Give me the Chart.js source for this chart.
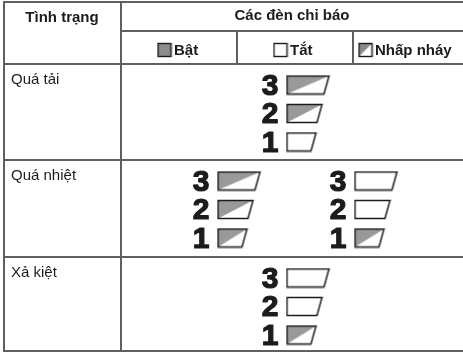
<!DOCTYPE html>
<html>
<head>
<meta charset="utf-8">
<script src="https://cdn.jsdelivr.net/npm/chart.js@4.4.1/dist/chart.umd.min.js"></script>
<style>
  html, body { margin: 0; padding: 0; background: #fff; }
  canvas { display: block; }
</style>
</head>
<body>
<canvas id="table" width="463" height="354"></canvas>
<script>
// data
const headerStatus = 'Tình trạng';
const headerLamps = 'Các đèn chỉ báo';
const legendLabels = ['Bật', 'Tắt', 'Nhấp nháy'];
const legendStates = ['on', 'off', 'blink'];
const statusLabels = ['Quá tải', 'Quá nhiệt', 'Xả kiệt'];
const lampNumbers = [3, 2, 1];
// trạng thái đèn 3, 2, 1
const overloadLamps = ['blink', 'blink', 'off'];
const overheatLampsA = ['blink', 'blink', 'blink'];
const overheatLampsB = ['off', 'off', 'blink'];
const drainedLamps = ['off', 'off', 'blink'];

// layout (pixels of the 463x354 page)
const rowTops = [64, 160, 257];
const lampOffsets = [21, 49.5, 78];
const groups = [
  { row: 0, digitX: 270, lamps: overloadLamps },
  { row: 1, digitX: 201, lamps: overheatLampsA },
  { row: 1, digitX: 338, lamps: overheatLampsB },
  { row: 2, digitX: 270, lamps: drainedLamps }
];
const lampWidth = { 3: 42, 2: 35, 1: 29 };
const lampHeight = 18;
const lampSlant = 5;
const grey = '#999999';
const lineColor = '#5f5f5f';
const ink = '#1c1c1c';

function lampCanvas(state, w, h, slant) {
  const c = document.createElement('canvas');
  c.width = w + 3;
  c.height = h + 3;
  const g = c.getContext('2d');
  const x0 = 1.5, y0 = 1.5;
  const outline = () => {
    g.beginPath();
    g.moveTo(x0, y0);
    g.lineTo(x0 + w, y0);
    g.lineTo(x0 + w - slant, y0 + h);
    g.lineTo(x0, y0 + h);
    g.closePath();
  };
  outline();
  g.fillStyle = state === 'on' ? grey : '#fff';
  g.fill();
  if (state === 'blink') {
    g.beginPath();
    g.moveTo(x0, y0);
    g.lineTo(x0 + w, y0);
    g.lineTo(x0, y0 + h);
    g.closePath();
    g.fillStyle = grey;
    g.fill();
  }
  g.strokeStyle = ink;
  g.lineWidth = 1.5;
  outline();
  g.stroke();
  return c;
}

// lamp points
const lampPoints = [];
const lampStyles = [];
groups.forEach(gr => {
  lampNumbers.forEach((n, i) => {
    const w = lampWidth[n];
    lampStyles.push(lampCanvas(gr.lamps[i], w, lampHeight, lampSlant));
    lampPoints.push({ x: gr.digitX + 17 + (w + 3) / 2 - 1.5, y: rowTops[gr.row] + lampOffsets[i] });
  });
});

// header legend squares
const legendX = [157, 273, 358];
const legendY = 50;
const legendPoints = legendX.map(x => ({ x: x + 7.5, y: legendY }));
const legendStyles = legendStates.map(s => {
  const c = document.createElement('canvas');
  c.width = 16; c.height = 16;
  const g = c.getContext('2d');
  g.fillStyle = s === 'on' ? '#8c8c8c' : '#fff';
  g.fillRect(1.5, 1.5, 13, 13);
  if (s === 'blink') {
    g.beginPath();
    g.moveTo(1.5, 1.5); g.lineTo(14.5, 1.5); g.lineTo(1.5, 14.5); g.closePath();
    g.fillStyle = '#8c8c8c';
    g.fill();
  }
  g.strokeStyle = ink;
  g.lineWidth = 1.4;
  g.strokeRect(1.5, 1.5, 13, 13);
  return c;
});

const tablePlugin = {
  id: 'tableGrid',
  beforeDatasetsDraw(chart) {
    const ctx = chart.ctx;
    const sx = chart.scales.x, sy = chart.scales.y;
    const px = v => sx.getPixelForValue(v);
    const py = v => sy.getPixelForValue(v);
    ctx.save();
    ctx.strokeStyle = lineColor;
    ctx.lineWidth = 2;
    const hLine = (y, x1, x2) => { ctx.beginPath(); ctx.moveTo(px(x1), py(y)); ctx.lineTo(px(x2), py(y)); ctx.stroke(); };
    const vLine = (x, y1, y2) => { ctx.beginPath(); ctx.moveTo(px(x), py(y1)); ctx.lineTo(px(x), py(y2)); ctx.stroke(); };
    hLine(2, 3, 463);
    hLine(31, 121, 463);
    hLine(64, 3, 463);
    rowTops.slice(1).forEach(y => hLine(y, 3, 463));
    hLine(351, 3, 463);
    vLine(4, 1, 352);
    vLine(121, 1, 352);
    vLine(237, 31, 64);
    vLine(353, 31, 64);

    ctx.fillStyle = ink;
    ctx.textBaseline = 'middle';
    ctx.textAlign = 'center';
    ctx.font = 'bold 15px "Liberation Sans", Arial, sans-serif';
    ctx.fillText(headerStatus, px(62), py(18));
    ctx.fillText(headerLamps, px(292), py(16));
    ctx.textAlign = 'left';
    legendLabels.forEach((t, i) => ctx.fillText(t, px(legendX[i] + 17), py(legendY + 1)));

    ctx.font = '15px "Liberation Sans", Arial, sans-serif';
    statusLabels.forEach((t, i) => ctx.fillText(t, px(11), py(rowTops[i] + 16)));

    ctx.textAlign = 'center';
    ctx.font = 'bold 30px "Liberation Sans", Arial, sans-serif';
    ctx.strokeStyle = ink;
    ctx.lineWidth = 1.2;
    ctx.lineJoin = 'round';
    groups.forEach(gr => {
      lampNumbers.forEach((n, i) => {
        const x = px(gr.digitX), y = py(rowTops[gr.row] + lampOffsets[i] + 1.5);
        ctx.fillText(String(n), x, y);
        ctx.strokeText(String(n), x, y);
      });
    });
    ctx.restore();
  }
};

new Chart(document.getElementById('table'), {
  type: 'scatter',
  data: {
    datasets: [
      { data: lampPoints, pointStyle: lampStyles, pointRadius: 10, pointHoverRadius: 10 },
      { data: legendPoints, pointStyle: legendStyles, pointRadius: 8, pointHoverRadius: 8 }
    ]
  },
  options: {
    responsive: false,
    animation: false,
    events: [],
    layout: { padding: 0, autoPadding: false },
    plugins: { legend: { display: false }, tooltip: { enabled: false } },
    scales: {
      x: { type: 'linear', min: 0, max: 463, display: false },
      y: { type: 'linear', min: 0, max: 354, reverse: true, display: false }
    }
  },
  plugins: [tablePlugin]
});
</script>
</body>
</html>
